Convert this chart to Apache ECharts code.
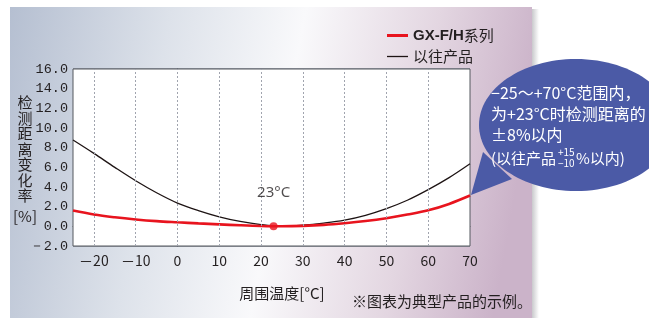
<!DOCTYPE html>
<html><head><meta charset="utf-8">
<script src="https://cdn.jsdelivr.net/npm/echarts@6/dist/echarts.min.js"></script>
<style>html,body{margin:0;padding:0;background:#fff}#c{width:649px;height:321px}</style>
</head><body><div id="c"></div>
<script>
// ---- data ----
const temps = [-25,-20,-15,-10,-5,0,5,10,15,20,25,30,35,40,45,50,55,60,65,70];
const gxValues = [1.6,1.2,0.92,0.7,0.53,0.41,0.3,0.2,0.11,0.04,0.01,0.05,0.15,0.32,0.54,0.83,1.2,1.63,2.28,3.13];
const oldValues = [8.78,7.42,6.0,4.64,3.42,2.37,1.6,0.97,0.5,0.18,0.02,0.12,0.33,0.63,1.12,1.8,2.65,3.73,4.95,6.36];
const xTicks = [-20,-10,0,10,20,30,40,50,60,70];
const refPoint = [23, 0];
const seriesNames = ['GX-F/H系列', '以往产品'];
const xName = '周围温度[°C]';
const yName = '检测距离变化率';
const note = '※图表为典型产品的示例。';
const bubbleLines = ['−25～+70°C范围内，', '为+23°C时检测距离的', '±8%以内'];

const CJK = "'Noto Sans CJK SC','Noto Sans CJK JP',sans-serif";
const TXT = '#231f20';
const RED = '#e8141e';
const BLUE = '#4b5aa6';

const chart = echarts.init(document.getElementById('c'), null, {renderer: 'canvas'});
const fmtMinus = (s) => s.replace('-', '－');

chart.setOption({
  animation: false,
  grid: {left: 73, right: 179, top: 69, bottom: 75, show: true, backgroundColor: '#fff', borderColor: '#55585f', borderWidth: 1, z: 1},
  xAxis: {
    type: 'value', min: -25, max: 70, interval: 5,
    axisLine: {show: true, lineStyle: {color: '#55585f', width: 1}},
    axisTick: {show: false},
    splitLine: {show: false},
    axisLabel: {
      margin: 8, color: TXT, fontSize: 14, fontFamily: CJK,
      formatter: v => xTicks.indexOf(v) >= 0 ? fmtMinus(String(v)) : ''
    }
  },
  yAxis: {
    type: 'value', min: -2, max: 16, interval: 2,
    axisLine: {show: true, lineStyle: {color: '#55585f', width: 1}},
    axisTick: {show: false},
    splitLine: {show: true, lineStyle: {color: '#878d99', width: 1.5}},
    axisLabel: {
      margin: 5, color: TXT, fontSize: 13.5, fontFamily: "'Liberation Mono','DejaVu Sans Mono',monospace",
      formatter: v => v < 0 ? '－' + Math.abs(v).toFixed(1) : v.toFixed(1)
    }
  },
  legend: {
    orient: 'vertical', left: 382, top: 23, itemWidth: 21, itemHeight: 12, itemGap: 6,
    symbolKeepAspect: true,
    data: [
      {name: seriesNames[0], icon: 'path://M0,0H21V3H0Z'},
      {name: seriesNames[1], icon: 'path://M0,0H21V1.3H0Z'}
    ],
    textStyle: {color: TXT, fontSize: 15, fontFamily: CJK,
      rich: {
        b: {fontWeight: 'bold', fontSize: 15, fontFamily: "'Liberation Sans',Arial,sans-serif", color: TXT},
        n: {fontSize: 15, fontFamily: CJK, color: TXT}
      }},
    formatter: name => name.indexOf('GX') === 0 ? '{b|GX-F/H}{n|系列}' : '{n|' + name + '}'
  },
  series: [
    {
      name: 'grid-v', type: 'line', data: [], z: 2, silent: true,
      markLine: {
        silent: true, symbol: ['none', 'none'], label: {show: false},
        lineStyle: {color: '#a0a4ae', type: [2, 2], width: 1},
        data: xTicks.filter(v => v < 70).map(v => ({xAxis: v}))
      }
    },
    {
      name: seriesNames[1], type: 'line', smooth: 0.35, showSymbol: false, symbol: 'none', z: 3,
      lineStyle: {color: '#1e1414', width: 1.3}, itemStyle: {color: '#1e1414'},
      data: temps.map((t, i) => [t, oldValues[i]])
    },
    {
      name: seriesNames[0], type: 'line', smooth: 0.35, showSymbol: false, symbol: 'none', z: 4,
      lineStyle: {color: RED, width: 2.6}, itemStyle: {color: RED},
      data: temps.map((t, i) => [t, gxValues[i]])
    },
    {
      name: 'ref', type: 'scatter', symbolSize: 8, z: 5,
      itemStyle: {color: RED},
      label: {show: true, position: 'top', distance: 22, formatter: '23°C', color: TXT, fontSize: 15, fontFamily: "'Noto Sans',sans-serif"},
      data: [refPoint]
    }
  ],
  graphic: [
    {type: 'rect', z: -100, silent: true, shape: {x: 532, y: 9, width: 7, height: 309},
     style: {fill: {type: 'linear', x: 0, y: 0, x2: 1, y2: 0, colorStops: [{offset: 0, color: '#c9c9cc'}, {offset: 1, color: '#ffffff'}]}}},
    {type: 'rect', z: -99, silent: true, shape: {x: 10, y: 7, width: 522, height: 311},
     style: {fill: {type: 'linear', x: 0, y: 0, x2: 1, y2: 0.3, colorStops: [
       {offset: 0, color: '#b5bfd1'}, {offset: 0.3, color: '#dde2ea'}, {offset: 0.55, color: '#f9f9fb'}, {offset: 0.8, color: '#e3d6e1'}, {offset: 1, color: '#cbb3c9'}]}}},
    {type: 'text', z: 10, silent: true, style: {x: 25, y: 95, text: yName.split('').join('\n'), font: '15px ' + CJK, fill: TXT, textAlign: 'center', lineHeight: 15.5}},
    {type: 'text', z: 10, silent: true, style: {x: 25, y: 216, text: '[%]', font: '15px ' + CJK, fill: TXT, textAlign: 'center', textVerticalAlign: 'middle', verticalAlign: 'middle'}},
    {type: 'text', z: 10, silent: true, style: {x: 282, y: 293, text: xName, font: '15px ' + CJK, fill: TXT, textAlign: 'center', textVerticalAlign: 'middle', verticalAlign: 'middle'}},
    {type: 'text', z: 10, silent: true, style: {x: 532, y: 301, text: note, font: '15px ' + CJK, fill: TXT, textAlign: 'right', textVerticalAlign: 'middle', verticalAlign: 'middle'}},
    {type: 'polygon', z: 50, silent: true, shape: {points: [[471, 195], [483, 152], [512, 179]]}, style: {fill: BLUE}},
    {type: 'ellipse', z: 50, silent: true, shape: {cx: 576, cy: 125, rx: 97, ry: 66}, style: {fill: BLUE}},
    {type: 'text', z: 60, silent: true, style: {x: 491, y: 93, text: bubbleLines[0], font: '16px ' + CJK, fill: '#fff', textVerticalAlign: 'middle', verticalAlign: 'middle'}},
    {type: 'text', z: 60, silent: true, style: {x: 491, y: 114, text: bubbleLines[1], font: '16px ' + CJK, fill: '#fff', textVerticalAlign: 'middle', verticalAlign: 'middle'}},
    {type: 'text', z: 60, silent: true, style: {x: 491, y: 135, text: bubbleLines[2], font: '16px ' + CJK, fill: '#fff', textVerticalAlign: 'middle', verticalAlign: 'middle'}},
    {type: 'text', z: 60, silent: true, style: {x: 491, y: 158, text: '(以往产品', font: '15px ' + CJK, fill: '#fff', textVerticalAlign: 'middle', verticalAlign: 'middle'}},
    {type: 'text', z: 60, silent: true, style: {x: 558, y: 152, text: '+15', font: '10px ' + CJK, fill: '#fff', textVerticalAlign: 'middle', verticalAlign: 'middle'}},
    {type: 'text', z: 60, silent: true, style: {x: 558, y: 163, text: '−10', font: '10px ' + CJK, fill: '#fff', textVerticalAlign: 'middle', verticalAlign: 'middle'}},
    {type: 'text', z: 60, silent: true, style: {x: 576, y: 158, text: '%以内)', font: '15px ' + CJK, fill: '#fff', textVerticalAlign: 'middle', verticalAlign: 'middle'}}
  ]
});
</script>
</body></html>
